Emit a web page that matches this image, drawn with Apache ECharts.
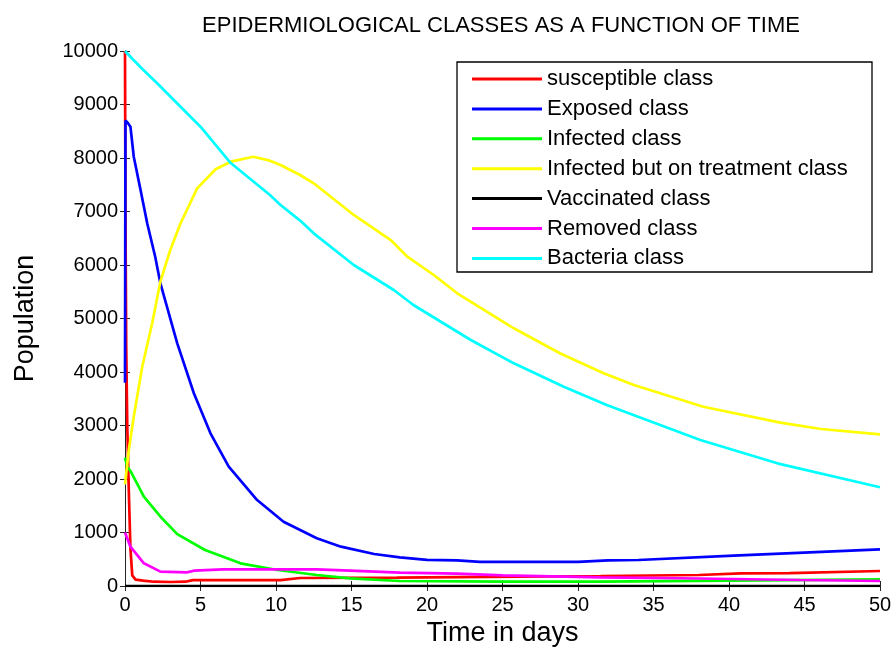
<!DOCTYPE html>
<html>
<head>
<meta charset="utf-8">
<script src="https://cdn.jsdelivr.net/npm/echarts@6/dist/echarts.min.js"></script>
<style>
html,body{margin:0;padding:0;background:#fff;}
#chart{width:894px;height:651px;}
</style>
</head>
<body>
<div id="chart"></div>
<script>
// ---- data (time in days, population) ----
var seriesNames = ['susceptible class','Exposed class','Infected class','Infected but on treatment class','Vaccinated class','Removed class','Bacteria class'];
var xTicks = [0,5,10,15,20,25,30,35,40,45,50];
var yTicks = [0,1000,2000,3000,4000,5000,6000,7000,8000,9000,10000];

var susceptible = [[0,10000],[0.03,7000],[0.08,4500],[0.15,3000],[0.25,1800],[0.36,700],[0.48,200],[0.7,120],[1.2,100],[1.9,80],[3,75],[4,80],[4.5,110],[10.3,110],[11.6,150],[18,155],[22,165],[26,175],[31.5,187],[38,206],[40.8,237],[44,240],[50,280]];
var exposed = [[0,3800],[0.03,8700],[0.2,8650],[0.36,8585],[0.58,8024],[1.03,7402],[1.47,6780],[2.0,6155],[2.35,5650],[3.46,4536],[4.56,3602],[5.66,2854],[6.87,2230],[8.75,1607],[10.5,1202],[12.7,891],[14.3,735],[16.5,598],[18.2,536],[20,490],[22,480],[23.5,450],[30,450],[32,480],[34,486],[40.3,566],[50,686]];
var infected = [[0,2400],[0.15,2230],[0.36,2150],[1.25,1669],[2.35,1295],[3.46,970],[5.3,673],[7.65,424],[10.1,299],[12.7,206],[14.9,144],[18.2,93],[25,80],[31.5,80],[40,100],[50,125]];
var treated = [[0,1900],[0.25,2542],[0.58,3164],[1.14,4099],[1.8,4910],[2.35,5700],[3.0,6280],[3.68,6780],[4.78,7433],[6.0,7789],[7.0,7931],[8.5,8024],[9.6,7950],[10.3,7869],[11.6,7682],[12.5,7527],[15.15,6935],[17.6,6467],[18.7,6155],[20.45,5813],[22,5471],[25.75,4817],[28.8,4350],[31.7,3975],[33.7,3757],[38.3,3351],[43.4,3053],[46.1,2935],[50,2835]];
var vaccinated = [[0,0],[10,0],[20,0],[30,0],[40,0],[50,0]];
var removed = [[0,1000],[0.36,735],[1.25,424],[2.35,268],[4.1,255],[4.56,286],[6.5,312],[12.7,312],[14.9,286],[18.2,249],[22,230],[25,200],[30,170],[31.5,160],[38,140],[44.7,112],[50,93]];
var bacteria = [[0,10000],[0.5,9850],[1.2,9650],[2.13,9396],[3,9150],[5,8585],[7,7906],[9.6,7308],[10.3,7121],[11.6,6830],[12.5,6592],[15.15,6000],[17.8,5533],[19.1,5252],[22.9,4598],[25.75,4162],[29.06,3725],[31.9,3383],[38.1,2729],[43.2,2293],[50,1845]];

var seriesData = [susceptible, exposed, infected, treated, vaccinated, removed, bacteria];
var colors = ['#ff0000','#0000ff','#00ff00','#ffff00','#000000','#ff00ff','#00ffff'];

var FONT = 'Liberation Sans, Arial, sans-serif';
var chart = echarts.init(document.getElementById('chart'), null, {renderer:'canvas'});

function axisCommon(showLabel){
  return {
    axisLine:{show:true, lineStyle:{color:'#262626', width:1}},
    axisTick:{show:true, inside:true, length:5, lineStyle:{color:'#262626', width:1}},
    splitLine:{show:false},
    axisLabel:{show:showLabel, color:'#000', fontFamily:FONT, fontSize:20,
      formatter:function(v){ return String(v); }}
  };
}

var xMain = Object.assign(axisCommon(true), {
  type:'value', position:'bottom', min:xTicks[0], max:xTicks[xTicks.length-1], interval:5,
  name:'Time in days', nameLocation:'middle', nameGap:34,
  nameTextStyle:{color:'#000', fontFamily:FONT, fontSize:27}
});
xMain.axisLabel.margin = 9;
var xTop = Object.assign(axisCommon(false), {type:'value', position:'top', min:0, max:50, interval:5});
var yMain = Object.assign(axisCommon(true), {
  type:'value', position:'left', min:yTicks[0], max:yTicks[yTicks.length-1], interval:1000,
  name:'Population', nameLocation:'middle', nameGap:86, nameRotate:90,
  nameTextStyle:{color:'#000', fontFamily:FONT, fontSize:27}
});
yMain.axisLabel.margin = 7;
var yRight = Object.assign(axisCommon(false), {type:'value', position:'right', min:0, max:10000, interval:1000});

var series = seriesNames.map(function(n,i){
  return {
    name:n, type:'line', xAxisIndex:0, yAxisIndex:0,
    data:seriesData[i], showSymbol:false, symbol:'none',
    lineStyle:{color:colors[i], width:2.7}, itemStyle:{color:colors[i]},
    animation:false, z:2
  };
});

chart.setOption({
  animation:false,
  backgroundColor:'#fff',
  title:{
    text:'EPIDERMIOLOGICAL CLASSES AS A FUNCTION OF TIME',
    left:501, top:15, textAlign:'center', padding:0,
    textStyle:{color:'#000', fontFamily:FONT, fontSize:22, fontWeight:'normal'}
  },
  grid:{left:125, right:14, top:51, bottom:65, containLabel:false, outerBoundsMode:'none'},
  xAxis:[xMain, xTop],
  yAxis:[yMain, yRight],
  legend:{
    orient:'vertical', left:472, top:68, padding:0,
    icon:'rect', itemWidth:70, itemHeight:3, itemGap:7.9,
    textStyle:{color:'#000', fontFamily:FONT, fontSize:22},
    data:seriesNames, selectedMode:false, z:10
  },
  graphic:[{
    type:'rect', z:5, silent:true,
    shape:{x:457, y:62, width:415, height:210},
    style:{fill:'#fff', stroke:'#000', lineWidth:1.3}
  }],
  series:series
});
</script>
</body>
</html>
